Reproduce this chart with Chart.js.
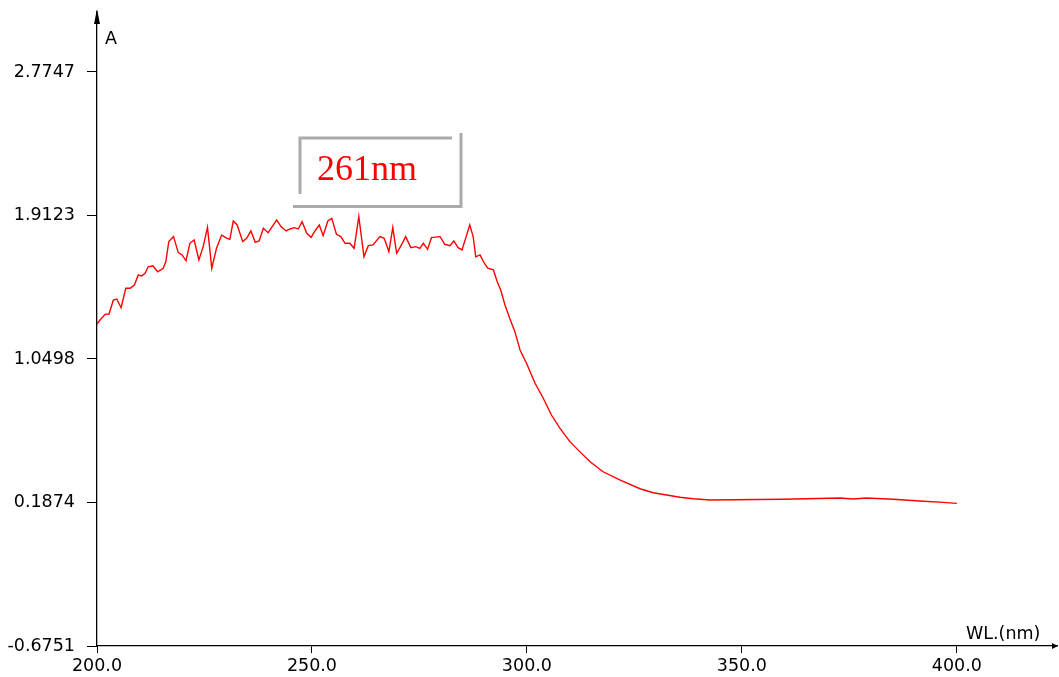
<!DOCTYPE html>
<html>
<head>
<meta charset="utf-8">
<script src="https://cdn.jsdelivr.net/npm/chart.js@4"></script>
<style>
  html, body { margin: 0; padding: 0; background: #fff; }
  #wrap { width: 1059px; height: 677px; position: relative; }
</style>
</head>
<body>
<div id="wrap"><canvas id="spectrum"></canvas></div>
<script>
// wavelength (nm) and absorbance
var wavelengths = [200, 200.7, 201.9, 202.8, 203.8, 204.6, 205.6, 206.7, 207.7, 208.7,
  209.6, 210.4, 211.2, 211.9, 213.0, 214.1, 215.4, 216.0, 216.7, 217.8,
  218.9, 219.8, 220.7, 221.6, 222.6, 223.7, 224.7, 225.7, 226.7, 227.8,
  229.0, 229.9, 230.9, 231.7, 232.6, 233.9, 234.8, 235.8, 236.8, 237.7,
  238.7, 239.8, 240.9, 241.8, 242.8, 244.0, 244.9, 245.9, 246.8, 247.7,
  248.8, 249.8, 250.7, 251.7, 252.6, 253.7, 254.6, 255.7, 256.7, 257.7,
  258.8, 259.8, 260.9, 262.1, 263.1, 264.2, 265.8, 266.8, 267.9, 268.8,
  269.7, 270.6, 271.8, 273.0, 274.1, 275.1, 275.9, 276.9, 277.8, 279.8,
  280.9, 282.1, 283.0, 284.0, 284.9, 285.8, 286.7, 287.5, 288.1, 289.1,
  290.1, 290.9, 292.2, 293.1, 293.9, 294.9, 296.0, 297.2, 298.4, 299.9,
  301.9, 303.8, 305.7, 307.7, 310.0, 312.3, 314.7, 317.7, 321.6, 326.3,
  329.4, 332.5, 335.6, 338.7, 342.6, 359.6, 372.8, 375.9, 379.0, 385.2,
  391.4, 396.8, 400];
var absorbance = [1.260, 1.284, 1.318, 1.320, 1.404, 1.410, 1.358, 1.475, 1.475, 1.494,
  1.555, 1.549, 1.565, 1.604, 1.610, 1.574, 1.595, 1.634, 1.755, 1.785,
  1.689, 1.675, 1.640, 1.745, 1.765, 1.645, 1.725, 1.841, 1.595, 1.715,
  1.795, 1.779, 1.769, 1.879, 1.855, 1.755, 1.775, 1.819, 1.751, 1.759,
  1.835, 1.809, 1.851, 1.885, 1.845, 1.819, 1.831, 1.839, 1.831, 1.875,
  1.805, 1.781, 1.819, 1.855, 1.791, 1.879, 1.895, 1.799, 1.785, 1.745,
  1.745, 1.715, 1.905, 1.664, 1.731, 1.735, 1.785, 1.775, 1.695, 1.839,
  1.685, 1.725, 1.785, 1.719, 1.725, 1.715, 1.745, 1.709, 1.779, 1.785,
  1.739, 1.731, 1.759, 1.719, 1.705, 1.779, 1.855, 1.785, 1.664, 1.675,
  1.625, 1.595, 1.585, 1.514, 1.464, 1.374, 1.294, 1.214, 1.104, 1.024,
  0.904, 0.814, 0.713, 0.633, 0.553, 0.493, 0.432, 0.372, 0.323, 0.270,
  0.246, 0.232, 0.219, 0.210, 0.202, 0.207, 0.214, 0.208, 0.214, 0.207,
  0.196, 0.188, 0.182];

var yTicks = [-0.6751, 0.1874, 1.0498, 1.9123, 2.7747];
var xTicks = [200, 250, 300, 350, 400];
var peakLabel = '261nm';

var points = wavelengths.map(function(w, i) { return { x: w, y: absorbance[i] }; });

var tickFont = { family: 'DejaVu Sans', size: 17.5 };

// axis arrows, axis names and the boxed peak note
var decorations = {
  id: 'decorations',
  afterDraw: function(chart) {
    var ctx = chart.ctx;
    var area = chart.chartArea;
    ctx.save();
    ctx.fillStyle = '#000';
    // y arrow
    ctx.beginPath();
    ctx.moveTo(area.left, 9);
    ctx.lineTo(area.left - 3, 24);
    ctx.lineTo(area.left + 3, 24);
    ctx.closePath();
    ctx.fill();
    // x arrow
    ctx.beginPath();
    ctx.moveTo(area.right + 1, area.bottom);
    ctx.lineTo(area.right - 5, area.bottom - 3);
    ctx.lineTo(area.right - 5, area.bottom + 3);
    ctx.closePath();
    ctx.fill();

    ctx.font = '17.5px "DejaVu Sans"';
    ctx.textBaseline = 'alphabetic';
    ctx.textAlign = 'left';
    ctx.fillText('A', 105, 44);
    ctx.fillText('WL.(nm)', 966, 639);

    // peak note frame
    ctx.strokeStyle = '#ababab';
    ctx.lineWidth = 3;
    ctx.beginPath();
    ctx.moveTo(300, 194); ctx.lineTo(300, 138); ctx.lineTo(452, 138);
    ctx.moveTo(461, 133); ctx.lineTo(461, 206.5); ctx.lineTo(293, 206.5);
    ctx.stroke();

    ctx.fillStyle = '#ff0000';
    ctx.font = '36px "Liberation Serif"';
    ctx.fillText(peakLabel, 317, 180);
    ctx.restore();
  }
};

new Chart(document.getElementById('spectrum'), {
  type: 'line',
  data: {
    datasets: [{
      data: points,
      borderColor: '#ff0000',
      borderWidth: 1.4,
      pointRadius: 0,
      tension: 0,
      fill: false
    }]
  },
  options: {
    responsive: true,
    maintainAspectRatio: false,
    animation: false,
    layout: { padding: { top: 12, right: 2, left: 0, bottom: 0 } },
    plugins: { legend: { display: false }, tooltip: { enabled: false } },
    scales: {
      x: {
        type: 'linear',
        min: 200,
        max: 423.3,
        afterFit: function(scale) {
          scale.height = 31;
          scale.paddingLeft = 0;
          scale.paddingRight = 0;
        },
        afterBuildTicks: function(scale) {
          scale.ticks = xTicks.map(function(v) { return { value: v }; });
        },
        ticks: {
          color: '#000',
          font: tickFont,
          padding: 3,
          maxRotation: 0,
          autoSkip: false,
          callback: function(v) { return Number(v).toFixed(1); }
        },
        grid: { drawOnChartArea: false, drawTicks: true, tickLength: 7, color: '#000' },
        border: { color: '#000', width: 1.3 }
      },
      y: {
        min: -0.6751,
        max: 3.135,
        afterFit: function(scale) {
          scale.width = 97;
          scale.paddingTop = 0;
          scale.paddingBottom = 0;
        },
        afterBuildTicks: function(scale) {
          scale.ticks = yTicks.map(function(v) { return { value: v }; });
        },
        ticks: {
          color: '#000',
          font: tickFont,
          padding: 12,
          autoSkip: false,
          callback: function(v) { return Number(v).toFixed(4); }
        },
        grid: { drawOnChartArea: false, drawTicks: true, tickLength: 10, color: '#000' },
        border: { color: '#000', width: 1.3 }
      }
    }
  },
  plugins: [decorations]
});
</script>
</body>
</html>
